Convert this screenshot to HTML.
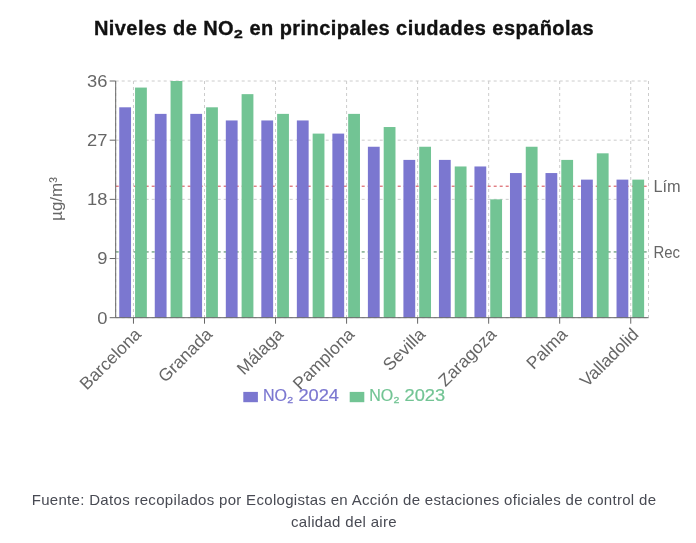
<!DOCTYPE html>
<html lang="es"><head><meta charset="utf-8"><title>Niveles de NO₂</title>
<style>
html,body{margin:0;padding:0;background:#fff;}
body{width:696px;height:543px;position:relative;overflow:hidden;font-family:"Liberation Sans",sans-serif;}
svg text{font-family:"Liberation Sans",sans-serif;}
.title{position:absolute;left:0;width:688px;top:14px;text-align:center;font-weight:bold;font-size:20px;line-height:28px;color:#111;letter-spacing:0.44px;-webkit-text-stroke:0.35px #111;white-space:nowrap;margin:0;}
.sub{font-size:1.14em;line-height:0;position:relative;top:1.8px;letter-spacing:0;margin-left:-0.8px;-webkit-text-stroke:0.35px currentColor}
.foot{position:absolute;left:0;width:688px;top:489.4px;text-align:center;font-size:15px;line-height:21.6px;color:#484a53;letter-spacing:0.31px;white-space:nowrap;margin:0;}
</style></head><body>
<h2 class="title"><span id="t">Niveles de NO<span class="sub">₂</span> en principales ciudades españolas</span></h2>
<svg width="680" height="430" viewBox="0 0 680 430" style="position:absolute;left:0;top:0;overflow:hidden">
<g stroke="#ccc" stroke-width="1" stroke-dasharray="3 3" fill="none">
<line x1="115.70" x2="648.50" y1="317.70" y2="317.70"/>
<line x1="115.70" x2="648.50" y1="258.52" y2="258.52"/>
<line x1="115.70" x2="648.50" y1="199.35" y2="199.35"/>
<line x1="115.70" x2="648.50" y1="140.18" y2="140.18"/>
<line x1="115.70" x2="648.50" y1="81.00" y2="81.00"/>
<line x1="115.70" x2="115.70" y1="81.00" y2="317.70"/>
<line x1="133.46" x2="133.46" y1="81.00" y2="317.70"/>
<line x1="204.50" x2="204.50" y1="81.00" y2="317.70"/>
<line x1="275.54" x2="275.54" y1="81.00" y2="317.70"/>
<line x1="346.58" x2="346.58" y1="81.00" y2="317.70"/>
<line x1="417.62" x2="417.62" y1="81.00" y2="317.70"/>
<line x1="488.66" x2="488.66" y1="81.00" y2="317.70"/>
<line x1="559.70" x2="559.70" y1="81.00" y2="317.70"/>
<line x1="630.74" x2="630.74" y1="81.00" y2="317.70"/>
<line x1="648.50" x2="648.50" y1="81.00" y2="317.70"/>
</g>
<line x1="115.70" x2="648.50" y1="186.20" y2="186.20" stroke="#d4464e" stroke-dasharray="3 3"/>
<line x1="115.70" x2="648.50" y1="251.95" y2="251.95" stroke="#3f7f55" stroke-dasharray="3 3"/>
<g fill="#7b77d0">
<rect x="119.25" y="107.30" width="11.8" height="210.40"/>
<rect x="154.77" y="113.88" width="11.8" height="203.82"/>
<rect x="190.29" y="113.88" width="11.8" height="203.82"/>
<rect x="225.81" y="120.45" width="11.8" height="197.25"/>
<rect x="261.33" y="120.45" width="11.8" height="197.25"/>
<rect x="296.85" y="120.45" width="11.8" height="197.25"/>
<rect x="332.37" y="133.60" width="11.8" height="184.10"/>
<rect x="367.89" y="146.75" width="11.8" height="170.95"/>
<rect x="403.41" y="159.90" width="11.8" height="157.80"/>
<rect x="438.93" y="159.90" width="11.8" height="157.80"/>
<rect x="474.45" y="166.47" width="11.8" height="151.22"/>
<rect x="509.97" y="173.05" width="11.8" height="144.65"/>
<rect x="545.49" y="173.05" width="11.8" height="144.65"/>
<rect x="581.01" y="179.62" width="11.8" height="138.07"/>
<rect x="616.53" y="179.62" width="11.8" height="138.07"/>
</g><g fill="#72c494">
<rect x="135.05" y="87.57" width="11.8" height="230.12"/>
<rect x="170.57" y="81.00" width="11.8" height="236.70"/>
<rect x="206.09" y="107.30" width="11.8" height="210.40"/>
<rect x="241.61" y="94.15" width="11.8" height="223.55"/>
<rect x="277.13" y="113.88" width="11.8" height="203.82"/>
<rect x="312.65" y="133.60" width="11.8" height="184.10"/>
<rect x="348.17" y="113.88" width="11.8" height="203.82"/>
<rect x="383.69" y="127.03" width="11.8" height="190.67"/>
<rect x="419.21" y="146.75" width="11.8" height="170.95"/>
<rect x="454.73" y="166.47" width="11.8" height="151.22"/>
<rect x="490.25" y="199.35" width="11.8" height="118.35"/>
<rect x="525.77" y="146.75" width="11.8" height="170.95"/>
<rect x="561.29" y="159.90" width="11.8" height="157.80"/>
<rect x="596.81" y="153.32" width="11.8" height="164.38"/>
<rect x="632.33" y="179.62" width="11.8" height="138.07"/>
</g>
<g stroke="#666" stroke-width="1" fill="none">
<line x1="115.70" x2="648.50" y1="317.70" y2="317.70"/>
<line x1="115.70" x2="115.70" y1="81.00" y2="317.70"/>
<line x1="109.70" x2="115.70" y1="317.70" y2="317.70"/>
<line x1="109.70" x2="115.70" y1="258.52" y2="258.52"/>
<line x1="109.70" x2="115.70" y1="199.35" y2="199.35"/>
<line x1="109.70" x2="115.70" y1="140.18" y2="140.18"/>
<line x1="109.70" x2="115.70" y1="81.00" y2="81.00"/>
<line x1="133.46" x2="133.46" y1="317.70" y2="323.70"/>
<line x1="204.50" x2="204.50" y1="317.70" y2="323.70"/>
<line x1="275.54" x2="275.54" y1="317.70" y2="323.70"/>
<line x1="346.58" x2="346.58" y1="317.70" y2="323.70"/>
<line x1="417.62" x2="417.62" y1="317.70" y2="323.70"/>
<line x1="488.66" x2="488.66" y1="317.70" y2="323.70"/>
<line x1="559.70" x2="559.70" y1="317.70" y2="323.70"/>
<line x1="630.74" x2="630.74" y1="317.70" y2="323.70"/>
</g>
<g fill="#666" font-size="17" text-anchor="end">
<text x="107.40" y="323.60" textLength="10.2" lengthAdjust="spacingAndGlyphs">0</text>
<text x="107.40" y="264.42" textLength="10.2" lengthAdjust="spacingAndGlyphs">9</text>
<text x="107.40" y="205.25" textLength="20.4" lengthAdjust="spacingAndGlyphs">18</text>
<text x="107.40" y="146.08" textLength="20.4" lengthAdjust="spacingAndGlyphs">27</text>
<text x="107.40" y="86.90" textLength="20.4" lengthAdjust="spacingAndGlyphs">36</text>
</g>
<g fill="#666" font-size="17.4" text-anchor="end">
<text x="133.46" y="326.70" dy="0.71em" transform="rotate(-45 133.46 326.70)">Barcelona</text>
<text x="204.50" y="326.70" dy="0.71em" transform="rotate(-45 204.50 326.70)">Granada</text>
<text x="275.54" y="326.70" dy="0.71em" transform="rotate(-45 275.54 326.70)">Málaga</text>
<text x="346.58" y="326.70" dy="0.71em" transform="rotate(-45 346.58 326.70)">Pamplona</text>
<text x="417.62" y="326.70" dy="0.71em" transform="rotate(-45 417.62 326.70)">Sevilla</text>
<text x="488.66" y="326.70" dy="0.71em" transform="rotate(-45 488.66 326.70)">Zaragoza</text>
<text x="559.70" y="326.70" dy="0.71em" transform="rotate(-45 559.70 326.70)">Palma</text>
<text x="630.74" y="326.70" dy="0.71em" transform="rotate(-45 630.74 326.70)">Valladolid</text>
</g>
<text x="61.9" y="199" transform="rotate(-90 61.9 199)" text-anchor="middle" fill="#666" font-size="17">µg/m³</text>
<text x="653.4" y="192.00" fill="#666" font-size="16" textLength="27.2" lengthAdjust="spacingAndGlyphs">Lím</text>
<text x="653.4" y="257.75" fill="#666" font-size="16" textLength="26.6" lengthAdjust="spacingAndGlyphs">Rec</text>
<rect x="243.3" y="391.9" width="14.6" height="10.3" fill="#7b77d0"/>
<text x="263.0" y="401.2" fill="#7b77d0" font-size="16" stroke="#7b77d0" stroke-width="0.2">NO<tspan font-size="16.5" dx="0" dy="1.2" stroke="#7b77d0" stroke-width="0.3">₂</tspan><tspan x="293.4" dy="-1.2" textLength="45.6" lengthAdjust="spacingAndGlyphs"> 2024</tspan></text>
<rect x="349.7" y="391.9" width="14.6" height="10.3" fill="#72c494"/>
<text x="369.2" y="401.2" fill="#72c494" font-size="16" stroke="#72c494" stroke-width="0.2">NO<tspan font-size="16.5" dx="0" dy="1.2" stroke="#72c494" stroke-width="0.3">₂</tspan><tspan x="399.5" dy="-1.2" textLength="45.6" lengthAdjust="spacingAndGlyphs"> 2023</tspan></text>
</svg>
<p class="foot"><span id="f1">Fuente: Datos recopilados por Ecologistas en Acción de estaciones oficiales de control de</span><br><span id="f2">calidad del aire</span></p>
</body></html>
